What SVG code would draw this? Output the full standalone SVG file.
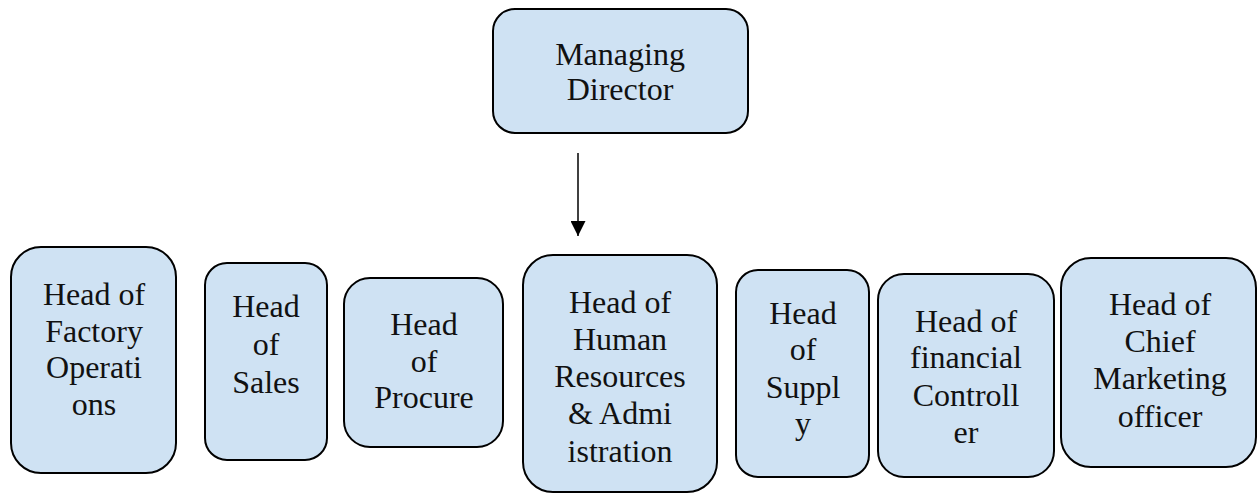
<svg xmlns="http://www.w3.org/2000/svg" width="1257" height="493" viewBox="0 0 1257 493">
<defs>
<marker id="ah" viewBox="0 0 10 10" refX="10" refY="5" markerWidth="15" markerHeight="15" markerUnits="userSpaceOnUse" orient="auto">
<path d="M0,0 L10,5 L0,10 z" fill="#000"/>
</marker>
<style>
rect{fill:#cfe2f3;stroke:#000;stroke-width:2}
text{font-size:32px;fill:#111;text-anchor:middle}
</style>
</defs>
<rect x="0" y="0" width="1257" height="493" style="fill:#fff;stroke:none"/>
<g id="connectors">
<line x1="578" y1="153" x2="578" y2="236" stroke="#000" stroke-width="1.5" marker-end="url(#ah)"/>
</g>
<g font-family="'Liberation Serif', serif">
<g id="md">
<rect x="493" y="9" width="255" height="124" rx="22"/>
<text x="620" y="65">Managing</text>
<text x="620" y="100">Director</text>
</g>
<g id="factory">
<rect x="11" y="247" width="165" height="226" rx="30"/>
<text x="94" y="305">Head of</text>
<text x="94" y="342">Factory</text>
<text x="94" y="378">Operati</text>
<text x="94" y="415">ons</text>
</g>
<g id="sales">
<rect x="205" y="263" width="122" height="197" rx="22"/>
<text x="266" y="317">Head</text>
<text x="266" y="355">of</text>
<text x="266" y="393">Sales</text>
</g>
<g id="procure">
<rect x="344" y="278" width="159" height="169" rx="26"/>
<text x="424" y="335">Head</text>
<text x="424" y="372">of</text>
<text x="424" y="408">Procure</text>
</g>
<g id="hr">
<rect x="523" y="255" width="194" height="237" rx="30"/>
<text x="620" y="313">Head of</text>
<text x="620" y="350">Human</text>
<text x="620" y="387">Resources</text>
<text x="620" y="424">&amp; Admi</text>
<text x="620" y="462">istration</text>
</g>
<g id="supply">
<rect x="736" y="270" width="133" height="207" rx="22"/>
<text x="803" y="324">Head</text>
<text x="803" y="360">of</text>
<text x="803" y="398">Suppl</text>
<text x="803" y="434">y</text>
</g>
<g id="financial">
<rect x="878" y="274" width="176" height="203" rx="26"/>
<text x="966" y="332">Head of</text>
<text x="966" y="368">financial</text>
<text x="966" y="406">Controll</text>
<text x="966" y="443">er</text>
</g>
<g id="marketing">
<rect x="1061" y="258" width="195" height="209" rx="30"/>
<text x="1160" y="315">Head of</text>
<text x="1160" y="352">Chief</text>
<text x="1160" y="389">Marketing</text>
<text x="1160" y="427">officer</text>
</g>
</g>
</svg>
